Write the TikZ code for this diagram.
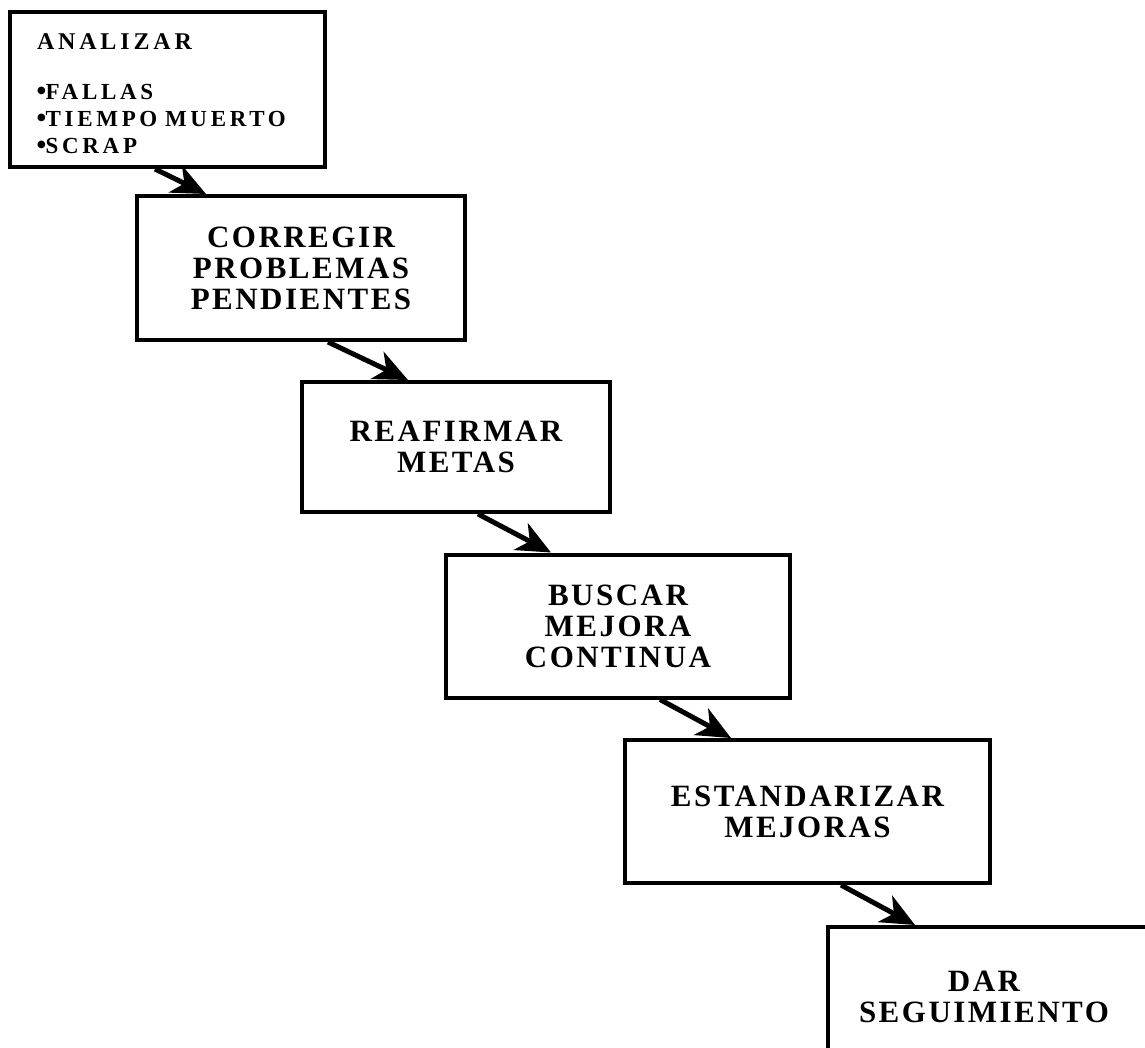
\documentclass[tikz,border=0pt]{standalone}
\usepackage{fontspec}
\setmainfont{Liberation Serif}
\newfontfamily\labfont{Liberation Serif}[LetterSpace=8]
\newfontfamily\smallfont{Liberation Serif}[LetterSpace=16]
\newfontfamily\symfont{DejaVu Sans}
\newcommand{\bulletdot}{{\symfont\fontsize{10}{10}\selectfont\raisebox{6pt}{●}}}
\usetikzlibrary{arrows.meta,calc}
\begin{document}
\begin{tikzpicture}[x=1pt,y=-1pt,
  box/.style={draw=black, line width=4pt, fill=white, rectangle, inner sep=0pt, align=center,
    font=\labfont\bfseries\fontsize{31}{31}\selectfont},
  arr/.style={line width=5pt, -{Stealth[length=34pt,width=30pt,inset=10pt]}}]
\useasboundingbox (0,0) rectangle (1145,1047);
\clip (0,0) rectangle (1145,1047);
\fill[white] (0,0) rectangle (1145,1047);

\node[box, minimum width=315, minimum height=155, text width=261, inner xsep=27pt, align=left,
  font=\smallfont\bfseries\fontsize{23}{27}\selectfont] (b1) at (167.5,89.5)
  {\rule{0pt}{25pt}{\fontsize{24}{27}\selectfont ANALIZAR}\\[23pt]%
   \bulletdot FALLAS\\%
   \bulletdot TIEMPO MUERTO\\%
   \bulletdot SCRAP};

\node[box, minimum width=328, minimum height=144] (b2) at (301,268) {CORREGIR\\PROBLEMAS\\PENDIENTES};
\node[box, minimum width=308, minimum height=130] (b3) at (456,447) {REAFIRMAR\\METAS};
\node[box, minimum width=344, minimum height=143] (b4) at (618,626) {BUSCAR\\MEJORA\\CONTINUA};
\node[box, minimum width=365, minimum height=143] (b5) at (807.5,811.5) {ESTANDARIZAR\\MEJORAS};
\node[box, anchor=north west, minimum width=360, minimum height=180] (b6) at (826,925) {};
\node[font=\labfont\bfseries\fontsize{31}{31}\selectfont, align=center, inner sep=0pt] (b6t) at (984,997) {DAR\\SEGUIMIENTO};

\draw[arr] ($(b1.south west)+(147,0)$) -- ($(b2.north west)+(71,0)$);
\draw[arr] ($(b2.south west)+(193,0)$) -- ($(b3.north west)+(108,0)$);
\draw[arr] ($(b3.south west)+(178,0)$) -- ($(b4.north west)+(107,0)$);
\draw[arr] ($(b4.south west)+(216,0)$) -- ($(b5.north west)+(108,0)$);
\draw[arr] ($(b5.south west)+(218,0)$) -- ($(b6.north west)+(89,0)$);
\end{tikzpicture}
\end{document}
